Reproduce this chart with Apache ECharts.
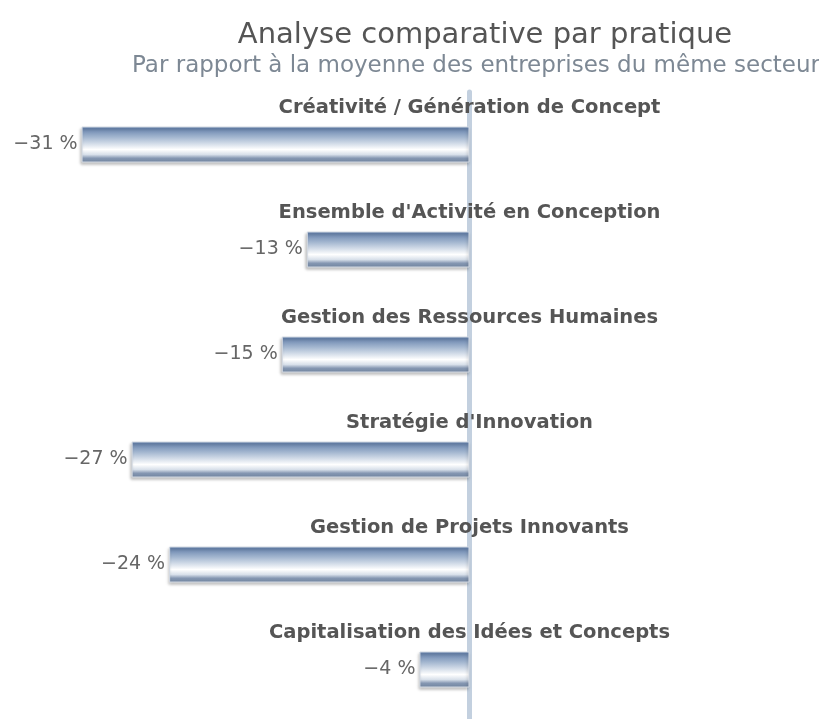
<!DOCTYPE html>
<html>
<head>
<meta charset="utf-8">
<script src="https://cdn.jsdelivr.net/npm/echarts@6/dist/echarts.min.js"></script>
<style>
  html, body { margin: 0; padding: 0; background: #ffffff; }
  #chart { width: 819px; height: 719px; }
</style>
</head>
<body>
<div id="chart"></div>
<script>
// Practices compared with the sector average (percentage gap)
const practices = [
  'Créativité / Génération de Concept',
  "Ensemble d'Activité en Conception",
  'Gestion des Ressources Humaines',
  "Stratégie d'Innovation",
  'Gestion de Projets Innovants',
  'Capitalisation des Idées et Concepts'
];
const gaps = [-31, -13, -15, -27, -24, -4];

const chart = echarts.init(document.getElementById('chart'), null, { renderer: 'canvas' });

const barFill = new echarts.graphic.LinearGradient(0, 0, 0, 1, [
  { offset: 0.00, color: '#5b79a6' },
  { offset: 0.30, color: '#a4b7d0' },
  { offset: 0.64, color: '#ffffff' },
  { offset: 0.78, color: '#d8e0ea' },
  { offset: 0.88, color: '#8597b2' },
  { offset: 1.00, color: '#71859f' }
]);

chart.setOption({
  animation: false,
  title: [{
    text: 'Analyse comparative par pratique',
    left: 480,
    top: 16,
    textAlign: 'center',
    textStyle: { fontFamily: 'DejaVu Sans', fontSize: 29, fontWeight: 'normal', color: '#555555' }
  }, {
    text: 'Par rapport à la moyenne des entreprises du même secteur',
    left: 471,
    top: 50,
    textAlign: 'center',
    textStyle: { fontFamily: 'DejaVu Sans', fontSize: 23, fontWeight: 'normal', color: '#7d8894' }
  }],
  grid: { left: 31.5, right: 349.5, top: 92, bottom: -3, containLabel: false, outerBoundsMode: 'none' },
  xAxis: {
    type: 'value',
    min: -35,
    max: 0,
    show: false
  },
  yAxis: {
    type: 'category',
    position: 'right',
    data: practices,
    inverse: true,
    axisTick: { show: false },
    axisLine: { show: true, lineStyle: { color: '#c3d0df', width: 5 } },
    axisLabel: {
      margin: 0,
      align: 'center',
      verticalAlign: 'bottom',
      padding: [0, 0, 27, 0],
      fontFamily: 'DejaVu Sans',
      fontWeight: 'bold',
      fontSize: 19.5,
      color: '#555555'
    },
    splitLine: { show: false },
    z: 1
  },
  series: [{
    type: 'bar',
    data: gaps,
    barWidth: 36,
    z: 3,
    itemStyle: {
      color: barFill,
      borderColor: '#d4dbe5',
      borderWidth: 1,
      shadowColor: 'rgba(0,0,0,0.25)',
      shadowBlur: 3,
      shadowOffsetX: -1,
      shadowOffsetY: 2
    },
    label: {
      show: true,
      position: 'left',
      distance: 4,
      fontFamily: 'DejaVu Sans',
      fontSize: 19,
      color: '#666666',
      formatter: p => '\u2212' + Math.abs(p.value) + ' %'
    }
  }]
});
</script>
</body>
</html>
